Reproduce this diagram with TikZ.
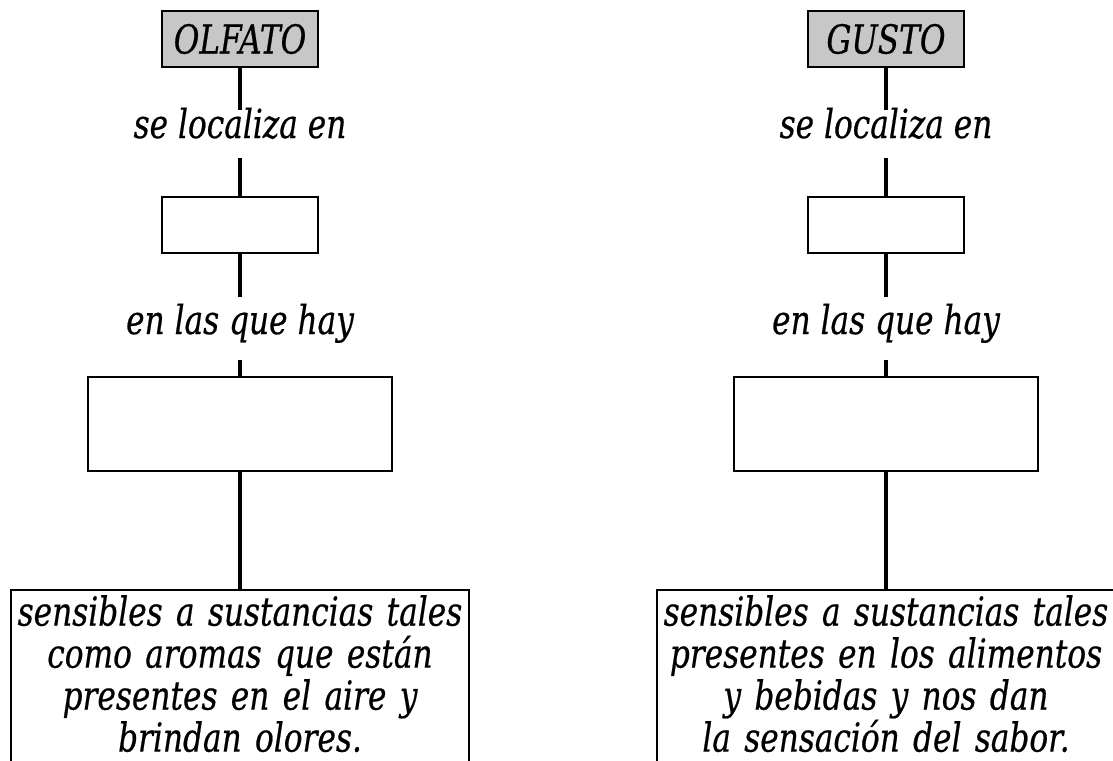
\documentclass[tikz,border=0pt]{standalone}
\usepackage{fontspec}
\newfontfamily\mapfont{DejaVu Serif}[FakeStretch=0.78, FakeBold=0.5]
\usetikzlibrary{positioning}

\begin{document}
\begin{tikzpicture}[x=0.5pt, y=-0.5pt,
    every node/.style={font=\mapfont\itshape\fontsize{20}{21}\selectfont},
    concept/.style={draw, line width=1.2pt, inner sep=0, minimum width=78pt, minimum height=28pt},
    title/.style={concept, fill=black!22},
    blank/.style={concept, minimum width=152pt, minimum height=47pt},
    detail/.style={draw, line width=1.2pt, anchor=north, text width=229pt, align=center, inner xsep=0, inner ysep=2.5pt,
        execute at end node={\rule[-24pt]{0pt}{24pt}}},
    link/.style={inner sep=0, anchor=base, text height=14pt, text depth=10pt},
    conn/.style={line width=1.7pt}
]
\clip (0,0) rectangle (1113,760);

% Olfato
\node[title] (olfato) at (240,39) {OLFATO};
\node[link] (olfLoc) at (240,138) {se localiza en};
\node[concept] (olfOrgano) at (240,225) {};
\node[link, text height=18.5pt, text depth=13pt] (olfHay) at (240,334) {en las que hay};
\node[blank] (olfCelulas) at (240,424) {};
\node[detail] (olfSens) at (240,589) {sensibles a sustancias tales\\ como aromas que están\\ presentes en el aire y\\ brindan olores.};

% Gusto
\node[title] (gusto) at (886,39) {GUSTO};
\node[link] (gusLoc) at (886,138) {se localiza en};
\node[concept] (gusOrgano) at (886,225) {};
\node[link, text height=18.5pt, text depth=13pt] (gusHay) at (886,334) {en las que hay};
\node[blank] (gusCelulas) at (886,424) {};
\node[detail] (gusSens) at (886,589) {sensibles a sustancias tales\\ presentes en los alimentos\\ y bebidas y nos dan\\ la sensación del sabor.};

% Connectors
\draw[conn] (olfato.south) -- (olfLoc.north);
\draw[conn] (olfLoc.south) -- (olfOrgano.north);
\draw[conn] (olfOrgano.south) -- (olfHay.north);
\draw[conn] (olfHay.south) -- (olfCelulas.north);
\draw[conn] (olfCelulas.south) -- (olfSens.north);
\draw[conn] (gusto.south) -- (gusLoc.north);
\draw[conn] (gusLoc.south) -- (gusOrgano.north);
\draw[conn] (gusOrgano.south) -- (gusHay.north);
\draw[conn] (gusHay.south) -- (gusCelulas.north);
\draw[conn] (gusCelulas.south) -- (gusSens.north);

\end{tikzpicture}
\end{document}
